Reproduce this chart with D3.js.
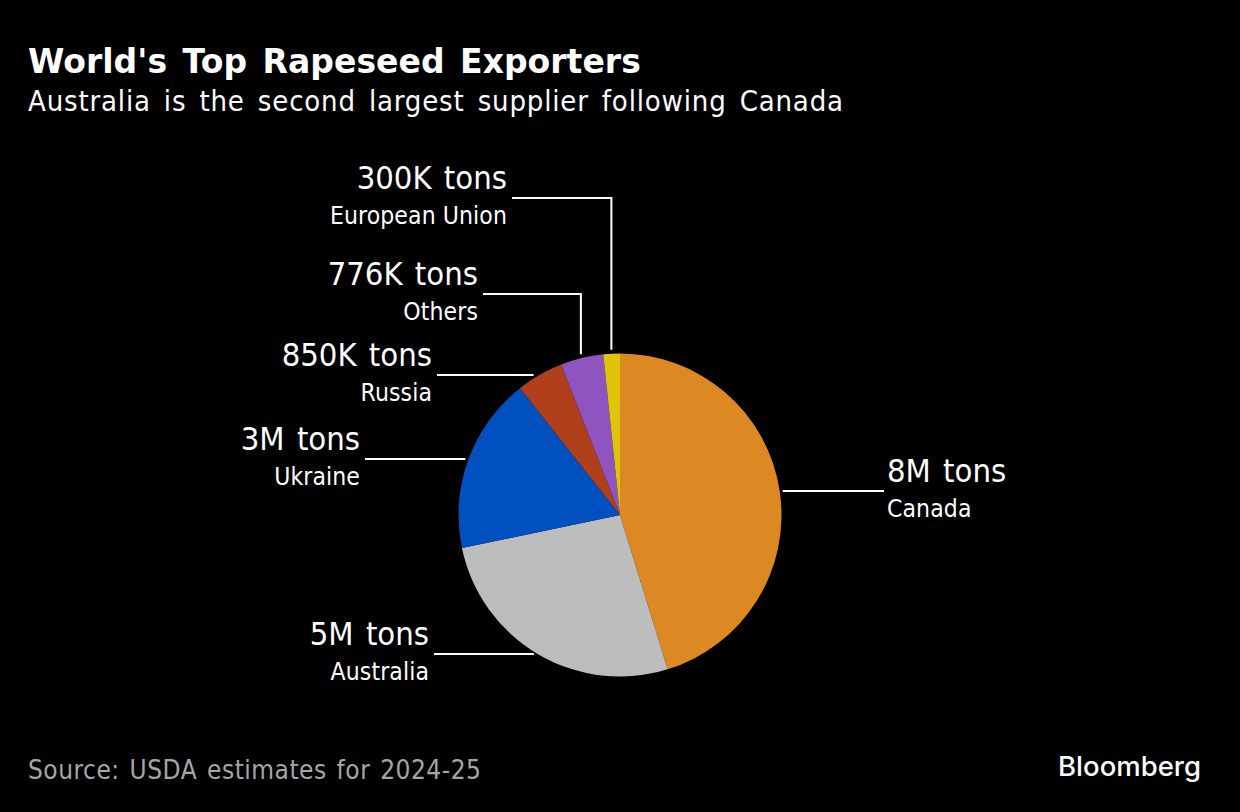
<!DOCTYPE html>
<html>
<head>
<meta charset="utf-8">
<script src="https://cdn.jsdelivr.net/npm/d3@7"></script>
<style>
  html, body { margin: 0; padding: 0; background: #000; }
  svg { display: block; }
  text { fill: #fff; font-family: "DejaVu Sans", sans-serif; font-stretch: condensed; }
  .title { font-weight: 700; font-stretch: normal; font-size: 33px; letter-spacing: 0.03px; word-spacing: 4px; }
  .subtitle { font-size: 29px; letter-spacing: 0.82px; word-spacing: 4px; }
  .source { font-size: 26px; fill: #a6a6a6; letter-spacing: 0.5px; word-spacing: 2px; }
  .brand { font-family: Inter, sans-serif; font-stretch: normal; font-weight: 500; font-size: 27.5px; }
  .amount { font-size: 32.5px; word-spacing: 3px; }
  .name { font-size: 24.5px; letter-spacing: 0.1px; }
</style>
</head>
<body>
<svg id="chart" width="1240" height="812"></svg>
<script>
const names = ['Canada', 'Australia', 'Ukraine', 'Russia', 'Others', 'European Union'];
// thousand tons (labels are rounded)
const values = [8195, 4800, 3198, 850, 776, 300];
const amounts = ['8M tons', '5M tons', '3M tons', '850K tons', '776K tons', '300K tons'];
const colors = ['#dc8924', '#bdbdbd', '#0051bf', '#b03f1c', '#8f54bd', '#e0c40c'];

const cx = 620, cy = 515, R = 161.5;

const svg = d3.select('#chart');

svg.append('text').attr('class', 'title').attr('x', 28).attr('y', 73)
  .text("World's Top Rapeseed Exporters");
svg.append('text').attr('class', 'subtitle').attr('x', 28).attr('y', 111)
  .text('Australia is the second largest supplier following Canada');
svg.append('text').attr('class', 'source').attr('x', 28).attr('y', 779)
  .text('Source: USDA estimates for 2024-25');
svg.append('text').attr('class', 'brand').attr('x', 1201).attr('y', 776).attr('text-anchor', 'end')
  .text('Bloomberg');

const pie = d3.pie().sort(null)(values);
const arc = d3.arc().innerRadius(0).outerRadius(R);
const g = svg.append('g').attr('transform', `translate(${cx},${cy})`);
g.selectAll('path').data(pie).join('path')
  .attr('d', arc)
  .attr('fill', (d, i) => colors[i]);

// leader line routes per slice, anchored on the slice mid angle
const labelSpots = [
  { side: 'right', lx: 884, ly: 491, tx: 887, gap: 3 },
  { side: 'left', lx: 434, ly: 654, tx: 429, gap: 2 },
  { side: 'left', lx: 365, ly: 459, tx: 360, gap: 3 },
  { side: 'left', lx: 437, ly: 375, tx: 432, gap: 3 },
  { side: 'left', lx: 483, ly: 294, tx: 478, gap: 4, elbow: true },
  { side: 'left', lx: 512, ly: 198, tx: 507, gap: 4, elbow: true }
];

pie.forEach((d, i) => {
  const s = labelSpots[i];
  const mid = (d.startAngle + d.endAngle) / 2;
  const line = svg.append('path').attr('fill', 'none').attr('stroke', '#fff').attr('stroke-width', 2);
  if (s.elbow) {
    const ex = cx + Math.sin(mid) * (R + s.gap);
    const ey = cy - Math.cos(mid) * (R + s.gap);
    line.attr('d', `M${s.lx},${s.ly}H${ex}V${ey}`);
  } else {
    // horizontal leader: end where that height meets the rim
    const dy = s.ly - cy;
    const dx = Math.sqrt(Math.max(0, (R + s.gap) * (R + s.gap) - dy * dy));
    const ex = s.side === 'right' ? cx + dx : cx - dx;
    line.attr('d', `M${s.lx},${s.ly}H${ex}`);
  }
  const anchor = s.side === 'right' ? 'start' : 'end';
  svg.append('text').attr('class', 'amount').attr('x', s.tx).attr('y', s.ly - 9).attr('text-anchor', anchor)
    .text(amounts[i]);
  svg.append('text').attr('class', 'name').attr('x', s.tx).attr('y', s.ly + 26).attr('text-anchor', anchor)
    .text(names[i]);
});
</script>
</body>
</html>
